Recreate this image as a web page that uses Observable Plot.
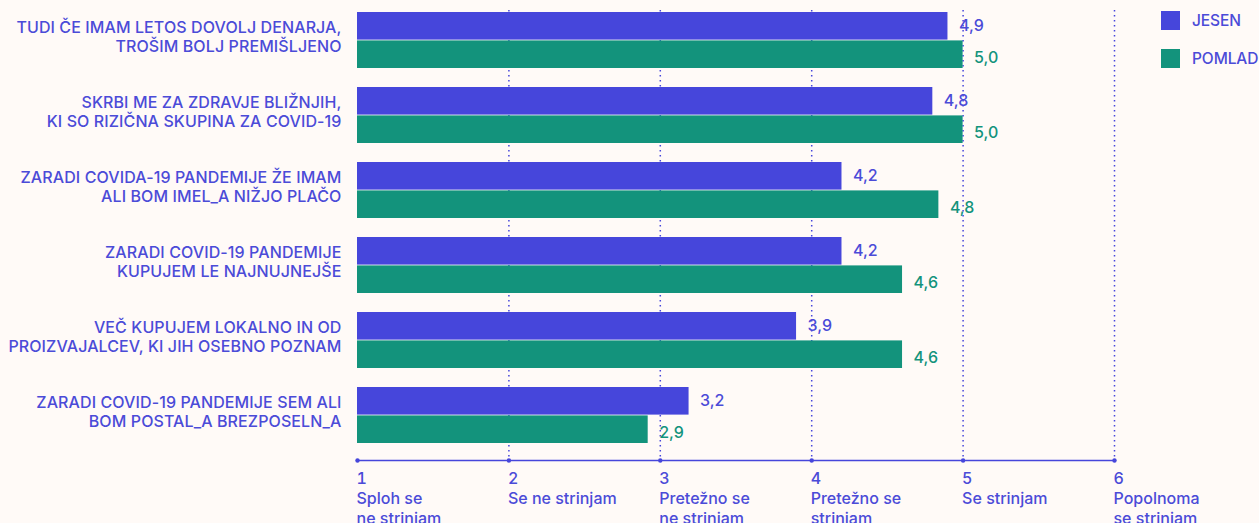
<!DOCTYPE html>
<html><head><meta charset="utf-8">
<script src="https://cdn.jsdelivr.net/npm/d3@7"></script>
<script src="https://cdn.jsdelivr.net/npm/@observablehq/plot@0.6"></script>
<style>
html,body{margin:0;padding:0;background:#fffaf7;}
#wrap{position:relative;width:1259px;height:523px;overflow:hidden;}
.legend{position:absolute;left:1161px;top:11px;font-family:Inter,sans-serif;font-weight:500;font-size:15.5px;color:#4b4bd8;letter-spacing:-0.1px;}
.legend .item{display:flex;align-items:center;height:19px;margin-bottom:19px;}
.legend .sw{width:19px;height:19px;margin-right:12px;}
svg .ylab text{letter-spacing:0.1px;}
</style></head><body><div id="wrap"></div>
<script>
const categories = [
  "TUDI ČE IMAM LETOS DOVOLJ DENARJA,\nTROŠIM BOLJ PREMIŠLJENO",
  "SKRBI ME ZA ZDRAVJE BLIŽNJIH,\nKI SO RIZIČNA SKUPINA ZA COVID-19",
  "ZARADI COVIDA-19 PANDEMIJE ŽE IMAM\nALI BOM IMEL_A NIŽJO PLAČO",
  "ZARADI COVID-19 PANDEMIJE\nKUPUJEM LE NAJNUJNEJŠE",
  "VEČ KUPUJEM LOKALNO IN OD\nPROIZVAJALCEV, KI JIH OSEBNO POZNAM",
  "ZARADI COVID-19 PANDEMIJE SEM ALI\nBOM POSTAL_A BREZPOSELN_A"
];
const seriesNames = ["JESEN", "POMLAD"];
const jesen = [4.9, 4.8, 4.2, 4.2, 3.9, 3.19];
const pomlad = [5.0, 5.0, 4.84, 4.6, 4.6, 2.92];
const xTicks = [1, 2, 3, 4, 5, 6];
const xTickLabels = ["Sploh se\nne strinjam", "Se ne strinjam", "Pretežno se\nne strinjam", "Pretežno se\nstrinjam", "Se strinjam", "Popolnoma\nse strinjam"];
const gridTicks = [2, 3, 4, 5, 6];

const BLUE = "#4646db", GREEN = "#13937c", TEXT = "#4b4bd8", BG = "#fffaf7";
const colors = {JESEN: BLUE, POMLAD: GREEN};

const rowsJ = categories.map((c, i) => ({cat: c, series: seriesNames[0], value: jesen[i]}));
const rowsP = categories.map((c, i) => ({cat: c, series: seriesNames[1], value: pomlad[i]}));
const fmt = v => d3.format(".1f")(v).replace(".", ",");
const tickLab = new Map(xTicks.map((t, i) => [t, t + "\n" + xTickLabels[i]]));
const half = 28.4;

const chart = Plot.plot({
  width: 1259, height: 523,
  marginLeft: 357, marginRight: 145, marginTop: 10, marginBottom: 63,
  style: {fontFamily: "Inter, sans-serif", fontSize: "16px", fontWeight: 500, background: BG, color: TEXT},
  x: {domain: [1, 6]},
  y: {domain: categories, range: [10, 446], paddingInner: 0.25, paddingOuter: 0},
  marks: [
    Plot.ruleX(gridTicks, {x: d => d, stroke: BLUE, strokeWidth: 1.5, strokeDasharray: "1.5,3.5"}),
    Plot.barX(rowsJ, {x1: 1, x2: "value", y: "cat", fill: BLUE, insetBottom: half}),
    Plot.barX(rowsP, {x1: 1, x2: "value", y: "cat", fill: GREEN, insetTop: half}),
    Plot.text(rowsJ, {x: "value", y: "cat", text: d => fmt(d.value), dx: 11, dy: -14.2, textAnchor: "start", fill: TEXT}),
    Plot.text(rowsP, {x: "value", y: "cat", text: d => fmt(d.value), dx: 11, dy: 17, textAnchor: "start", fill: GREEN}),
    Plot.frame({anchor: "bottom", stroke: BLUE, strokeWidth: 1.5}),
    Plot.dot(xTicks, {x: d => d, frameAnchor: "bottom", r: 2.2, fill: BLUE}),
    Plot.axisX(xTicks, {anchor: "bottom", tickSize: 0, tickPadding: 10, textAnchor: "start", dx: -1, fill: TEXT, lineHeight: 1.23, tickFormat: d => tickLab.get(d), label: null}),
    Plot.axisY({tickSize: 0, tickPadding: 16, fill: TEXT, lineHeight: 1.15, dy: -4, label: null, className: "ylab"})
  ]
});
const wrap = document.getElementById("wrap");
wrap.appendChild(chart);
const legend = document.createElement("div");
legend.className = "legend";
legend.innerHTML = seriesNames.map(s => `<div class="item"><div class="sw" style="background:${colors[s]}"></div><span>${s}</span></div>`).join("");
wrap.appendChild(legend);
</script></body></html>
